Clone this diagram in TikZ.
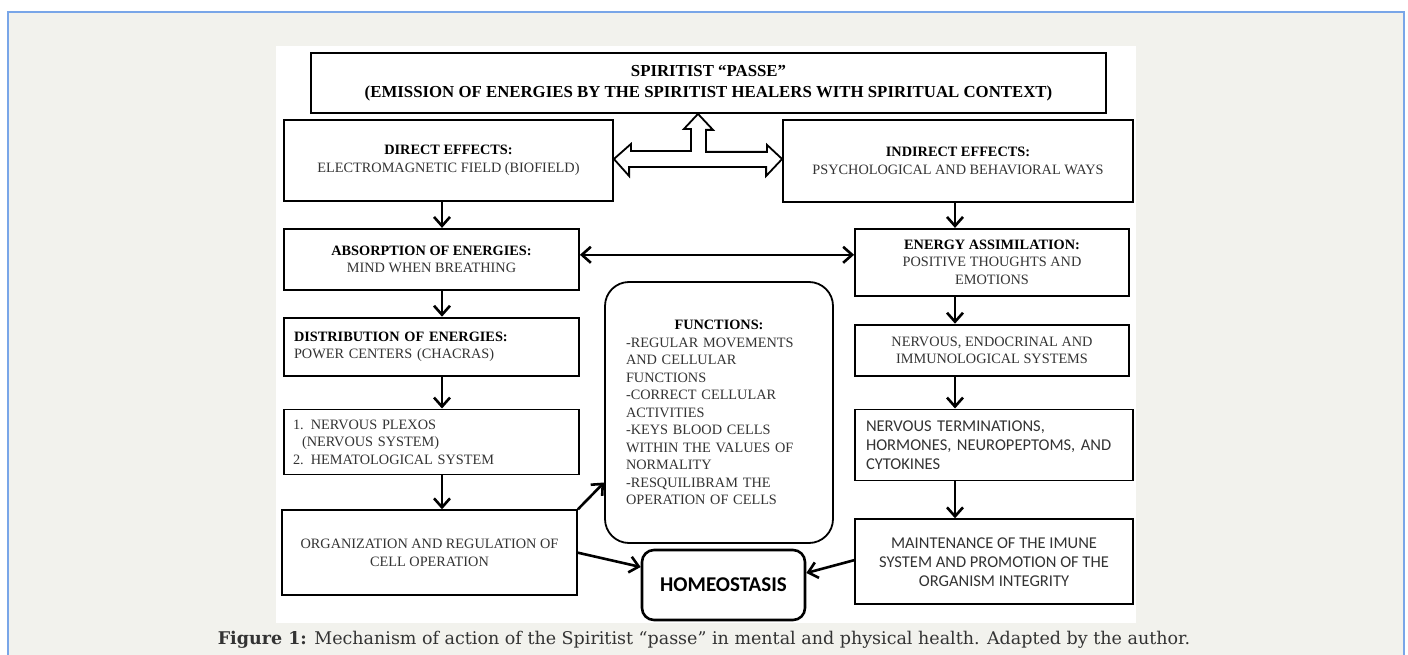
\documentclass[tikz,border=0pt]{standalone}
\usepackage{fontspec}
\setmainfont{Liberation Serif}
\newfontfamily\calibfont{Carlito}
\newfontfamily\capfont{DejaVu Serif}
\usetikzlibrary{arrows.meta, positioning, calc}
\definecolor{panel}{HTML}{F2F2ED}
\definecolor{frame}{HTML}{79A6E8}
\definecolor{ink}{HTML}{333333}
\newcommand\boxfont{\fontsize{14.3}{17.5}\selectfont}
\newcommand\topfont{\fontsize{16.8}{21}\selectfont\bfseries}
\newcommand\sansfont{\calibfont\fontsize{16.5}{19}\selectfont}

\begin{document}
\begin{tikzpicture}[
  x=1pt, y=-1pt,
  box/.style={rectangle, draw, line width=1.8pt, fill=white, text=ink,
              align=center, inner sep=0pt, font=\boxfont},
  lbox/.style={box, align=left},
  rbox/.style={box, rounded corners=24pt},
  arr/.style={-{Straight Barb[length=9pt, width=16pt]}, line width=2.6pt},
  darr/.style={arr, {Straight Barb[length=9pt, width=16pt]}-{Straight Barb[length=9pt, width=16pt]}},
  hollow/.style={draw, fill=white, line width=1.8pt, line join=miter},
]
\useasboundingbox (0,0) rectangle (1408,655);
\fill[white] (0,0) rectangle (1408,655);
\draw[frame, fill=panel, line width=1.2pt] (8,12) rectangle (1404,700);
\fill[white] (276,46) rectangle (1136,623);

% top and first row
\node[box, font=\topfont, text=black, minimum width=795pt, minimum height=60pt]
  (passe) at (708.5,83)
  {SPIRITIST “PASSE”\\(EMISSION OF ENERGIES BY THE SPIRITIST HEALERS WITH SPIRITUAL CONTEXT)};
\node[box, minimum width=329pt, minimum height=81pt] (direct) at (448.5,160.5)
  {\textcolor{black}{\textbf{DIRECT EFFECTS:}}\\ELECTROMAGNETIC FIELD (BIOFIELD)};
\node[box, minimum width=350pt, minimum height=82pt] (indirect) at (958,161)
  {\textcolor{black}{\textbf{INDIRECT EFFECTS:}}\\PSYCHOLOGICAL AND BEHAVIORAL WAYS};

% left column
\node[box, below right=26pt and 0pt of direct.south west,
      minimum width=295pt, minimum height=61pt] (absorb)
  {\textcolor{black}{\textbf{ABSORPTION OF ENERGIES:}}\\MIND WHEN BREATHING};
\node[lbox, text width=275pt, below right=26pt and 0pt of absorb.south west,
      minimum width=295pt, minimum height=58pt] (distrib)
  {\textcolor{black}{\textbf{DISTRIBUTION OF ENERGIES:}}\\POWER CENTERS (CHACRAS)};
\node[lbox, text width=277pt, below right=32pt and 0pt of distrib.south west,
      minimum width=295pt, minimum height=65pt] (plexos)
  {1. NERVOUS PLEXOS\\\hspace*{9pt}(NERVOUS SYSTEM)\\2. HEMATOLOGICAL SYSTEM};
\node[box, below right=34pt and -2pt of plexos.south west,
      minimum width=295pt, minimum height=85pt] (organ)
  {ORGANIZATION AND REGULATION OF\\CELL OPERATION};

% right column
\node[box, below right=25pt and 72pt of indirect.south west,
      minimum width=274pt, minimum height=67pt] (assim)
  {\textcolor{black}{\textbf{ENERGY ASSIMILATION:}}\\POSITIVE THOUGHTS AND\\EMOTIONS};
\node[box, below right=27pt and 0pt of assim.south west,
      minimum width=274pt, minimum height=51pt] (systems)
  {NERVOUS, ENDOCRINAL AND\\IMMUNOLOGICAL SYSTEMS};
\node[lbox, font=\sansfont, text width=256pt, below right=32pt and 0pt of systems.south west,
      minimum width=278pt, minimum height=71pt] (termin)
  {NERVOUS TERMINATIONS,\\HORMONES, NEUROPEPTOMS, AND\\CYTOKINES};
\node[box, font=\sansfont, below right=37pt and 0pt of termin.south west,
      minimum width=278pt, minimum height=85pt] (maint)
  {MAINTENANCE OF THE IMUNE\\SYSTEM AND PROMOTION OF THE\\ORGANISM INTEGRITY};

% middle
\node[rbox, align=left, text width=186pt, minimum width=228pt, minimum height=261pt]
  (funcs) at (719,412.5)
  {\hfill\textcolor{black}{\textbf{FUNCTIONS:}}\hfill\null\\-REGULAR MOVEMENTS\\AND CELLULAR\\FUNCTIONS\\-CORRECT CELLULAR\\ACTIVITIES\\-KEYS BLOOD CELLS\\WITHIN THE VALUES OF\\NORMALITY\\-RESQUILIBRAM THE\\OPERATION OF CELLS};
\node[rbox, rounded corners=12pt, line width=2.6pt, text=black,
      font=\calibfont\fontsize{21}{24}\selectfont\bfseries,
      minimum width=163pt, minimum height=70pt] (homeo) at (723.5,585) {HOMEOSTASIS};

% connectors
\coordinate (lcol) at (442,0);
\coordinate (rcol) at (955,0);
\coordinate (hub) at (698,159);
\draw[hollow] (direct.east |- hub) -- ++(17,-15) -- ++(0,7) -- ++(60,0) -- ++(0,-22)
  -- ++(-7,0) -- (passe.south -| hub) -- ++(15,16) -- ++(-7,0) -- ++(0,22)
  -- ++(61,0) -- ++(0,-7) -- (indirect.west |- hub) -- ++(-16,17) -- ++(0,-9)
  -- ++(-137,0) -- ++(0,9) -- cycle;

\draw[arr] (direct.south -| lcol) -- (absorb.north -| lcol);
\draw[arr] (absorb.south -| lcol) -- (distrib.north -| lcol);
\draw[arr] (distrib.south -| lcol) -- (plexos.north -| lcol);
\draw[arr] (plexos.south -| lcol) -- (organ.north -| lcol);
\draw[arr] (indirect.south -| rcol) -- (assim.north -| rcol);
\draw[arr] (assim.south -| rcol) -- (systems.north -| rcol);
\draw[arr] (systems.south -| rcol) -- (termin.north -| rcol);
\draw[arr] (termin.south -| rcol) -- (maint.north -| rcol);
\draw[darr] ([yshift=4.5pt]absorb.east) -- ([yshift=4.5pt]absorb.east -| assim.west);
\draw[arr] (organ.north east) -- ([yshift=-70pt]funcs.west);
\draw[arr] (organ.east) -- ([yshift=18pt]homeo.west);
\draw[arr] ([yshift=1.5pt]maint.west) -- ([yshift=12pt]homeo.east);

% caption
\node[font=\capfont\fontsize{17.5}{20}\selectfont, text=ink] (caption) at (704,640)
  {\textbf{Figure 1:} Mechanism of action of the Spiritist “passe” in mental and physical health. Adapted by the author.};
\end{tikzpicture}
\end{document}
